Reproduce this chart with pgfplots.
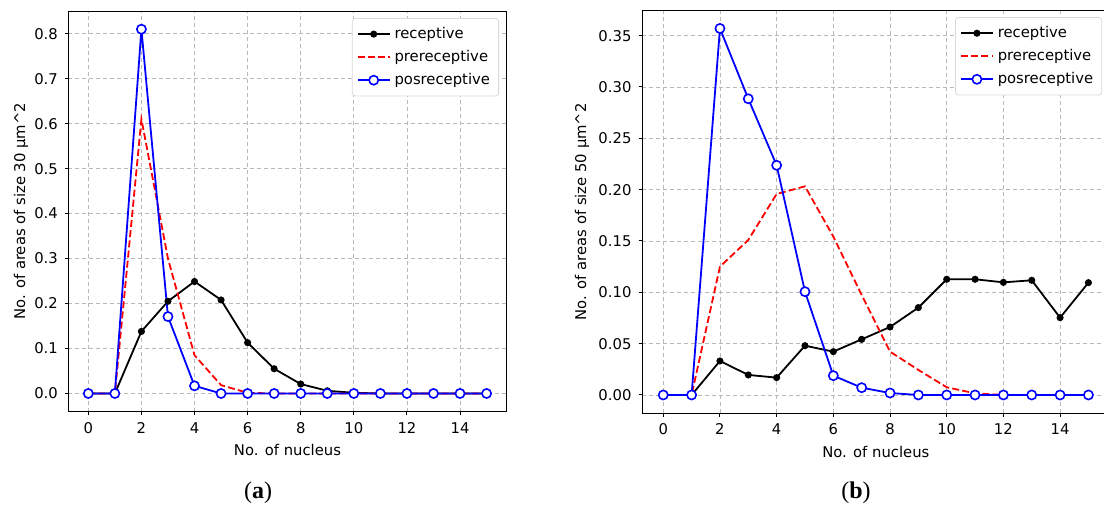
\documentclass[border=0pt]{standalone}
\usepackage{fontspec}
\setmainfont{DejaVu Sans}
\newfontfamily\capfont{Liberation Serif}
\usepackage{pgfplots}
\pgfplotsset{compat=1.18}

\pgfplotsset{
  mpl/.style={
    scale only axis,
    xmin=-0.75, xmax=15.75,
    xtick={0,2,...,14},
    grid=major,
    grid style={gray!55, line width=0.4pt, dash pattern=on 2pt off 1.5pt},
    tick align=outside, xtick pos=bottom, ytick pos=left,
    major tick length=1.75pt,
    tick style={black, line width=0.5pt},
    axis line style={line width=0.5pt},
    ticklabel style={font=\fontsize{7.4}{8}\selectfont},
    /pgf/number format/assume math mode=true,
    label style={font=\fontsize{7.4}{8}\selectfont},
    xlabel style={at={(axis description cs:0.5,0)}, anchor=center, yshift=-19.2pt},
    legend cell align=left,
    legend style={at={(axis description cs:1,1)}, anchor=north east,
      xshift=-3.75pt, yshift=-3.5pt, draw=gray!30, rounded corners=1.5pt,
      font=\fontsize{7.4}{8}\selectfont, row sep=0.4pt, inner sep=2.3pt},
    legend image code/.code={
      \draw[mark repeat=2,mark phase=2] plot coordinates {(0cm,0cm) (0.28cm,0cm) (0.56cm,0cm)};},
  },
  rec/.style={black, line width=0.9pt, mark=*, mark size=1.3pt},
  pre/.style={red, line width=0.9pt, dash pattern=on 3.5pt off 1.6pt, mark=none},
  pos/.style={blue, line width=0.9pt, mark=*, mark size=2.3pt,
    mark options={solid, fill=white, draw=blue, line width=0.8pt}},
}

\begin{document}
\begin{tikzpicture}
\path[use as bounding box, clip] (0,0) rectangle (552pt,-253pt);

% (a) size 30
\begin{axis}[mpl,
  at={(34.2pt,-205.85pt)}, anchor=south west,
  width=219.05pt, height=200.35pt,
  ymin=-0.0405, ymax=0.8505,
  ytick={0,0.1,...,0.8},
  yticklabel style={/pgf/number format/.cd, fixed, fixed zerofill, precision=1},
  xlabel={No. of nucleus},
  ylabel={No. of areas of size 30 µm\textasciicircum 2},
  ylabel style={at={(axis description cs:-0.108,0.5)}, rotate=0, anchor=center},
]
\addplot[rec] coordinates {
  (0,0)(1,0)(2,0.138)(3,0.205)(4,0.249)(5,0.208)(6,0.113)(7,0.055)
  (8,0.021)(9,0.006)(10,0.0015)(11,0)(12,0)(13,0)(14,0)(15,0)};
\addlegendentry{receptive}
\addplot[pre] coordinates {
  (0,0)(1,0)(2,0.61)(3,0.30)(4,0.085)(5,0.0185)(6,0.0015)(7,0)
  (8,0)(9,0)(10,0)(11,0)(12,0)(13,0)(14,0)(15,0)};
\addlegendentry{prereceptive}
\addplot[pos] coordinates {
  (0,0)(1,0)(2,0.81)(3,0.171)(4,0.017)(5,0)(6,0)(7,0)
  (8,0)(9,0)(10,0)(11,0)(12,0)(13,0)(14,0)(15,0)};
\addlegendentry{posreceptive}
\end{axis}

% (b) size 50 -- the right edge is cut off in the reference
\begin{axis}[mpl,
  at={(321pt,-206.65pt)}, anchor=south west,
  width=233.85pt, height=201.6pt,
  ymin=-0.01785, ymax=0.3749,
  ytick={0,0.05,...,0.35},
  yticklabel style={/pgf/number format/.cd, fixed, fixed zerofill, precision=2},
  xlabel={No. of nucleus},
  ylabel={No. of areas of size 50 µm\textasciicircum 2},
  ylabel style={at={(axis description cs:-0.128,0.5)}, rotate=0, anchor=center},
]
\addplot[rec] coordinates {
  (0,0)(1,0)(2,0.0331)(3,0.0195)(4,0.0169)(5,0.048)(6,0.0422)(7,0.0542)
  (8,0.0662)(9,0.0851)(10,0.1127)(11,0.1127)(12,0.1097)(13,0.1117)(14,0.0753)(15,0.1094)};
\addlegendentry{receptive}
\addplot[pre] coordinates {
  (0,0)(1,0)(2,0.125)(3,0.151)(4,0.1958)(5,0.2032)(6,0.1542)(7,0.0974)
  (8,0.0422)(9,0.0244)(10,0.0075)(11,0.0016)(12,0)(13,0)(14,0)(15,0)};
\addlegendentry{prereceptive}
\addplot[pos] coordinates {
  (0,0)(1,0)(2,0.357)(3,0.2885)(4,0.2237)(5,0.1006)(6,0.0188)(7,0.0071)
  (8,0.0019)(9,0)(10,0)(11,0)(12,0)(13,0)(14,0)(15,0)};
\addlegendentry{posreceptive}
\end{axis}

\node[font=\capfont\fontsize{12}{14}\selectfont] at (129pt,-246.5pt) {(\textbf{a})};
\node[font=\capfont\fontsize{12}{14}\selectfont] at (428pt,-246.5pt) {(\textbf{b})};
\end{tikzpicture}
\end{document}
